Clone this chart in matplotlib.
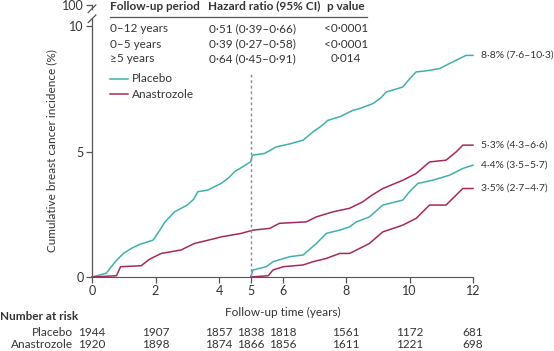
import matplotlib
matplotlib.use("Agg")
import matplotlib.pyplot as plt
import matplotlib.transforms as mtransforms

plt.rcParams['font.family'] = ['Lato', 'DejaVu Sans']
plt.rcParams['font.size'] = 8.5
plt.rcParams['text.color'] = '#333333'

TEAL = '#3fb1ad'
MAROON = '#a6295d'
INK = '#333333'
AXC = '#555555'

# cumulative incidence (%)
placebo_t = [0, 0.45, 0.6, 0.8, 1.0, 1.24, 1.5, 1.92, 2.1, 2.3, 2.6, 3.0, 3.2, 3.33,
             3.65, 4.06, 4.3, 4.49, 4.75, 5.0, 5.05, 5.44, 5.8, 6.2, 6.65, 6.96, 7.2,
             7.43, 7.8, 8.22, 8.43, 8.85, 9.1, 9.27, 9.79, 10.0, 10.21, 10.5, 10.94,
             11.36, 11.78, 12.0]
placebo_v = [0, 0.15, 0.4, 0.7, 0.95, 1.14, 1.3, 1.47, 1.8, 2.2, 2.6, 2.87, 3.1, 3.4,
             3.47, 3.73, 3.95, 4.2, 4.4, 4.6, 4.86, 4.93, 5.19, 5.3, 5.46, 5.79, 6.0,
             6.25, 6.39, 6.65, 6.72, 6.92, 7.15, 7.38, 7.58, 7.9, 8.18, 8.22, 8.31,
             8.58, 8.84, 8.84]

anas_t = [0, 0.77, 0.9, 1.55, 1.8, 2.18, 2.81, 3.0, 3.23, 3.6, 4.07, 4.7, 5.07, 5.6,
          5.9, 6.75, 7.07, 7.59, 8.11, 8.53, 8.8, 9.16, 9.79, 10.21, 10.63, 11.15,
          11.47, 11.68, 12]
anas_v = [0, 0.05, 0.41, 0.45, 0.7, 0.94, 1.08, 1.2, 1.34, 1.45, 1.6, 1.74, 1.87, 1.94,
          2.14, 2.2, 2.4, 2.6, 2.74, 3.0, 3.25, 3.53, 3.86, 4.13, 4.59, 4.66,
          4.99, 5.26, 5.26]

placebo5_t = [5.0, 5.07, 5.49, 5.7, 6.23, 6.65, 7.07, 7.38, 7.8, 8.11, 8.33, 8.74,
              9.16, 9.79, 10.0, 10.26, 10.73, 11.26, 11.68, 12]
placebo5_v = [0, 0.28, 0.41, 0.61, 0.81, 0.88, 1.34, 1.74, 1.87, 2.0, 2.2, 2.4,
              2.87, 3.07, 3.4, 3.73, 3.86, 4.06, 4.33, 4.46]

anas5_t = [5.0, 5.55, 5.7, 6.02, 6.65, 6.96, 7.38, 7.8, 8.11, 8.43, 8.74, 9.16, 9.79,
           10.21, 10.63, 11.15, 11.47, 11.68, 12]
anas5_v = [0, 0.05, 0.28, 0.41, 0.48, 0.61, 0.74, 0.94, 0.94, 1.14, 1.34, 1.8, 2.07,
           2.34, 2.87, 2.87, 3.27, 3.53, 3.53]

end_labels = ['8·8% (7·6–10·3)', '5·3% (4·3–6·6)', '4·4% (3·5–5·7)', '3·5% (2·7–4·7)']

periods = ['0–12 years', '0–5 years', '≥5 years']
hazard = ['0·51 (0·39–0·66)', '0·39 (0·27–0·58)', '0·64 (0·45–0·91)']
pvals = ['<0·0001', '<0·0001', '0·014']

risk_times = [0, 2, 4, 5, 6, 8, 10, 12]
risk_placebo = [1944, 1907, 1857, 1838, 1818, 1561, 1172, 681]
risk_anas = [1920, 1898, 1874, 1866, 1856, 1611, 1221, 698]

W, H = 554, 351
fig = plt.figure(figsize=(W / 100, H / 100), dpi=100)
ax = fig.add_axes([92 / W, 1 - 277 / H, (473 - 92) / W, (277 - 5) / H])


def px(x, y):
    return x / W, 1 - y / H


# the published curves are fine staircases; at this size they read as jagged lines
for t, v, c in [(placebo_t, placebo_v, TEAL), (anas_t, anas_v, MAROON),
                (placebo5_t, placebo5_v, TEAL), (anas5_t, anas5_v, MAROON)]:
    ax.plot(t, v, color=c, lw=1.1, clip_on=False)
ax.plot([5, 5], [0, 8.15], color='#8a8a9a', lw=1, ls=(0, (2, 2)))

ends = [placebo_v[-1], anas_v[-1], placebo5_v[-1], anas5_v[-1]]
for v, lab in zip(ends, end_labels):
    ax.annotate(lab, (12, v), xytext=(5.5, 0), textcoords='offset points',
                va='center', ha='left', fontsize=7.5, color=INK, annotation_clip=False)

ymax = 10.85
ax.set_xlim(0, 12)
ax.set_ylim(0, ymax)
ax.set_xticks(risk_times)
ax.set_yticks([0, 5, 10, ymax])
ax.set_yticklabels(['0', '5', '10', '100'])
ax.tick_params(colors=AXC, labelcolor=INK, labelsize=9, length=4, width=0.9, pad=2)
for s in ['top', 'right']:
    ax.spines[s].set_visible(False)
ax.spines['bottom'].set_color(AXC)
ax.spines['left'].set_visible(False)
# broken left axis
ax.plot([0, 0], [0, 10.3], color=AXC, lw=0.9, clip_on=False)
ax.plot([0, 0], [10.7, ymax], color=AXC, lw=0.9, clip_on=False)
for yb in (10.3, 10.7):
    ax.plot([-0.12, 0.12], [yb - 0.15, yb + 0.15], color=AXC, lw=0.9, clip_on=False)

fig.text(*px(52, 151), 'Cumulative breast cancer incidence (%)', rotation=90,
         ha='center', va='center', fontsize=8.5, color=INK)
fig.text(*px(283, 312), 'Follow-up time (years)', ha='center', va='center', fontsize=8.5)

# hazard ratio table
fig.text(*px(110, 6), 'Follow-up period', fontweight='bold', va='center', fontsize=8.5)
fig.text(*px(208, 6), 'Hazard ratio (95% CI)', fontweight='bold', va='center', fontsize=8.5)
fig.text(*px(327, 6), 'p value', fontweight='bold', va='center', fontsize=8.5)
fig.add_artist(plt.Line2D([110 / W, 367 / W], [1 - 17 / H] * 2, color=AXC, lw=0.9))
for i, (p, h, pv) in enumerate(zip(periods, hazard, pvals)):
    y = 29 + 15 * i
    fig.text(*px(110, y), p, va='center', fontsize=8.5)
    fig.text(*px(209, y), h, va='center', fontsize=8.5)
    fig.text(*px(346, y), pv, va='center', ha='center', fontsize=8.5)

# legend
for y, c, lab in [(79, TEAL, 'Placebo'), (94, MAROON, 'Anastrozole')]:
    fig.add_artist(plt.Line2D([110 / W, 128 / W], [1 - y / H] * 2, color=c, lw=1.1))
    fig.text(*px(132, y), lab, va='center', fontsize=8.5)

# number at risk
fig.text(*px(0, 316), 'Number at risk', fontweight='bold', va='center', fontsize=8.5)
fig.text(*px(73, 332), 'Placebo', ha='right', va='center', fontsize=8.5)
fig.text(*px(73, 345), 'Anastrozole', ha='right', va='center', fontsize=8.5)
tr = mtransforms.blended_transform_factory(ax.transData, fig.transFigure)
for t, a, b in zip(risk_times, risk_placebo, risk_anas):
    ax.text(t, 1 - 332 / H, str(a), transform=tr, ha='center', va='center', fontsize=8.5)
    ax.text(t, 1 - 345 / H, str(b), transform=tr, ha='center', va='center', fontsize=8.5)

fig.savefig('out.png', dpi=100)
